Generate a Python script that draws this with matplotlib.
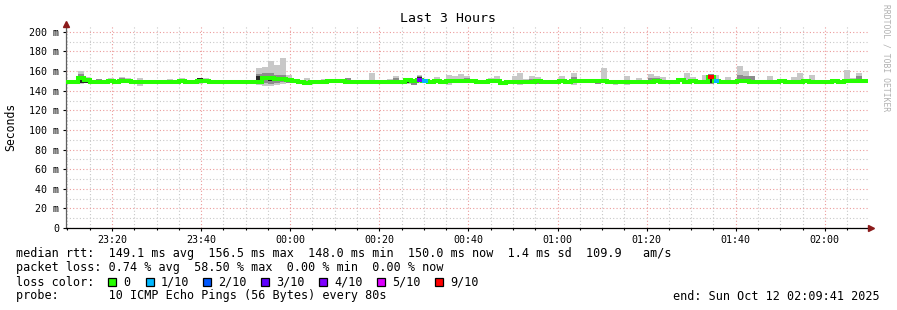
import numpy as np
import pandas as pd
import matplotlib
matplotlib.use("Agg")
import matplotlib.pyplot as plt
import matplotlib.dates as mdates
import matplotlib.ticker as mticker
from matplotlib.patches import Rectangle

plt.rcParams['font.family'] = 'DejaVu Sans Mono'

start = pd.Timestamp("2025-10-11 23:09:41")
step = "80s"

# median rtt per 80s step (ms)
median = [148.5, 148.5, 153.0, 150.5, 148.5, 149.0, 149.0, 149.5, 149.0, 149.5, 149.5, 149.0, 149.0, 149.0, 149.0,
          149.0, 148.5, 149.0, 149.0, 149.5, 149.0, 148.5, 150.0, 150.0, 149.0, 148.5, 148.5, 148.5, 149.0, 149.0,
          149.0, 149.0, 148.5, 152.5, 152.5, 152.0, 152.0, 150.5, 149.5, 149.0, 148.0, 149.0, 149.0, 149.0, 150.0,
          150.0, 150.0, 149.0, 148.5, 148.5, 148.5, 149.0, 149.0, 149.0, 149.0, 149.0, 148.5, 150.5, 150.0, 150.5,
          149.5, 148.5, 149.5, 148.5, 149.5, 149.5, 149.5, 149.5, 150.0, 148.5, 149.0, 149.5, 149.5, 148.0, 149.0,
          149.0, 149.0, 148.5, 149.0, 149.5, 149.0, 149.0, 149.0, 149.5, 148.5, 149.5, 149.5, 149.5, 149.5, 149.5,
          149.5, 149.0, 149.0, 148.5, 149.0, 149.0, 149.0, 148.5, 149.0, 149.5, 149.0, 148.5, 149.0, 151.0, 148.5,
          149.5, 148.5, 149.0, 154.5, 149.5, 149.0, 149.0, 149.0, 150.0, 149.5, 149.0, 149.0, 149.0, 149.0, 149.0,
          149.5, 149.0, 149.0, 149.0, 149.5, 149.0, 149.0, 148.5, 149.0, 149.5, 149.0, 149.5, 149.5, 150.0, 150.0]

ping_max = [150, 150, 160, 154, 150, 152, 150.5, 153, 150.5, 154, 153, 151, 153, 151, 150.5,
            150.5, 150, 152, 150.5, 153, 150.5, 150, 153, 153, 151, 150, 150, 150, 151, 150.5,
            150.5, 150.5, 163, 164.5, 170, 166, 173, 156, 151, 150.5, 153, 150.5, 150.5, 152, 151.5,
            152, 151.5, 153, 150, 150, 150, 158, 151, 150.5, 152, 155, 150, 152, 151.5, 156,
            151, 150, 154, 150, 156, 155, 157, 155, 151.5, 150, 151, 153, 155, 149.5, 150.5,
            155, 158, 152, 155, 154, 151, 151, 150.5, 155, 150, 158, 152, 152, 152, 151,
            163, 150.5, 151, 150, 155, 150.5, 153, 150, 157, 155, 154, 150, 150.5, 152.5, 158,
            154, 150, 156, 157, 156, 150.5, 154, 151, 165, 160, 155, 151, 150.5, 155, 150.5,
            151, 150.5, 154, 158, 151, 156, 150.5, 150, 150.5, 152, 150.5, 161, 153, 158, 152]

ping_min = [147.5, 147.5, 147, 147.5, 147.5, 147.5, 147.5, 148, 147.5, 148, 148, 147.5, 145, 147.5, 147.5,
            147.5, 147, 147.5, 147.5, 148, 147.5, 147, 146.5, 148, 147.5, 147, 147, 147, 147.5, 147.5,
            147.5, 147.5, 146, 145, 144.5, 146, 147, 148, 148, 147.5, 146, 147.5, 147.5, 147.5, 148.5,
            148.5, 148.5, 147.5, 147, 147, 147, 147.5, 147.5, 147.5, 147.5, 147.5, 147, 147, 146, 148,
            148, 147, 148, 147, 146, 148, 148, 148, 148.5, 147, 147.5, 148, 147.5, 146.5, 147.5,
            147, 146, 147, 147.5, 147, 147.5, 147.5, 147.5, 148, 147, 146, 148, 148, 148, 147,
            148, 147.5, 146, 147, 146, 147.5, 147.5, 147, 147.5, 148, 147.5, 147, 147.5, 149.5, 147,
            148, 147, 147.5, 147, 148, 147.5, 147.5, 147.5, 148.5, 148, 147.5, 147.5, 147.5, 147.5, 147.5,
            148, 147.5, 147.5, 147.5, 148, 147.5, 147.5, 147, 147.5, 148, 147.5, 148, 148, 148, 148]

# denser smoke: (step, low ms, high ms)
mid_bands = [(2, 149, 157), (3, 148, 152), (5, 149, 152), (9, 150, 153), (22, 149, 153), (30, 149, 150.5),
             (32, 147, 157), (33, 148, 158), (34, 147, 158), (35, 148, 156), (36, 149, 156), (37, 148, 152),
             (47, 149, 152.5), (55, 150, 153), (57, 147.5, 149), (58, 146, 148), (59, 149, 155),
             (65, 149, 151.5), (66, 149, 152), (67, 149, 153), (72, 148, 152), (75, 147, 149), (78, 149, 152),
             (79, 147, 148.5), (85, 150, 154), (89, 147, 148.5), (98, 149, 153), (99, 150, 153),
             (104, 147, 148.5), (108, 147, 157), (113, 150, 156), (114, 151, 155), (115, 150, 155),
             (116, 149, 150.5), (129, 149, 152), (132, 149, 151), (133, 148, 155)]
core_bands = [(2, 148, 155), (3, 147.5, 149), (22, 149, 152.5), (32, 147.5, 155), (34, 150, 153),
              (57, 147.5, 148.5), (59, 151, 154), (72, 147.5, 148.5), (108, 148, 156), (132, 149.5, 150.5)]

# packet loss (tenths) on steps with loss
loss_steps = [(59, 4), (60, 1), (108, 9), (109, 1)]

loss_labels = ["0", "1/10", "2/10", "3/10", "4/10", "5/10", "9/10"]
loss_colors = ["#26ff00", "#00b8ff", "#0059ff", "#5e00ff", "#7e00ff", "#dd00ff", "#ff0000"]
color_by_tenth = {0: 0, 1: 1, 2: 2, 3: 3, 4: 4, 5: 5, 9: 6}

stats_lines = [
    "median rtt:  149.1 ms avg  156.5 ms max  148.0 ms min  150.0 ms now  1.4 ms sd  109.9   am/s",
    "packet loss: 0.74 % avg  58.50 % max  0.00 % min  0.00 % now",
]
probe_line = "probe:       10 ICMP Echo Pings (56 Bytes) every 80s"
end_line = "end: Sun Oct 12 02:09:41 2025"

W, H = 897, 310
fig = plt.figure(figsize=(W / 100, H / 100), dpi=100)
fig.patch.set_facecolor("white")


def fx(x):
    return x / W


def fy(y):
    return 1 - y / H


ax = fig.add_axes([fx(66), fy(228), fx(868) - fx(66), fy(26) - fy(228)])

edges = mdates.date2num(pd.date_range(start, periods=len(median) + 1, freq=step).to_pydatetime())
widths = np.diff(edges)
lo = np.array(ping_min)
hi = np.array(ping_max)

ax.bar(edges[:-1], hi - lo, bottom=lo, width=widths, align="edge", color="#c8c8c8", linewidth=0, zorder=2)
idx, blo, bhi = map(np.array, zip(*mid_bands))
ax.bar(edges[idx], bhi - blo, bottom=blo, width=widths[idx], align="edge", color="#8c8c8c", linewidth=0, zorder=3)
idx, clo, chi = map(np.array, zip(*core_bands))
ax.bar(edges[idx], chi - clo, bottom=clo, width=widths[idx], align="edge", color="#262626", linewidth=0, zorder=4)

ax.plot(edges, median + [median[-1]], drawstyle="steps-post", color=loss_colors[0], lw=2.9,
        solid_joinstyle="miter", zorder=5)
for i, tenth in loss_steps:
    ax.hlines(median[i], edges[i], edges[i + 1], color=loss_colors[color_by_tenth[tenth]], lw=2.9, zorder=6)

ax.set_xlim(edges[0], edges[-1])
ax.set_ylim(0, 206)

ax.xaxis.set_major_locator(mdates.MinuteLocator(byminute=[0, 20, 40]))
ax.xaxis.set_minor_locator(mdates.MinuteLocator(byminute=range(0, 60, 5)))
ax.xaxis.set_major_formatter(mdates.DateFormatter("%H:%M"))
ax.yaxis.set_major_locator(mticker.MultipleLocator(20))
ax.yaxis.set_minor_locator(mticker.MultipleLocator(10))
ax.yaxis.set_major_formatter(mticker.FuncFormatter(lambda v, p: "0" if v == 0 else f"{int(v)} m"))

ax.grid(which="minor", color="#c8c8c8", linestyle=(0, (1, 2)), lw=0.8)
ax.grid(which="major", color="#eb9a9a", linestyle=(0, (1, 2)), lw=0.8)
ax.set_axisbelow(True)

ax.tick_params(axis="both", which="major", labelsize=7.2, length=2.5, width=0.8, pad=2.5, colors="#000000")
ax.tick_params(axis="x", which="minor", length=1.5, width=0.8)
ax.tick_params(axis="y", which="minor", length=0)
for s in ("top", "right"):
    ax.spines[s].set_visible(False)
ax.spines["left"].set_color("#606060")
ax.spines["left"].set_linewidth(0.9)
ax.spines["bottom"].set_color("#000000")
ax.spines["bottom"].set_linewidth(0.9)

ax.plot([0], [1.01], marker="^", ms=4.5, color="#8b1a1a", transform=ax.transAxes, clip_on=False, zorder=10)
ax.plot([1.004], [0], marker=">", ms=4.5, color="#8b1a1a", transform=ax.transAxes, clip_on=False, zorder=10)

fig.text(fx(448), fy(19), "Last 3 Hours", ha="center", va="center", fontsize=9.5)
fig.text(fx(11), fy(127), "Seconds", ha="center", va="center", rotation=90, fontsize=8.3)
fig.text(fx(886), fy(4), "RRDTOOL / TOBI OETIKER", ha="center", va="top", rotation=270,
         fontsize=5.8, color="#b0b0b0")

fig.text(fx(16), fy(254), stats_lines[0], ha="left", va="center", fontsize=8.5)
fig.text(fx(16), fy(268), stats_lines[1], ha="left", va="center", fontsize=8.5)
fig.text(fx(16), fy(282), "loss color:", ha="left", va="center", fontsize=8.5)
box_x = [108, 146, 203, 261, 319, 377, 435]
for bx, lab, col in zip(box_x, loss_labels, loss_colors):
    fig.patches.append(Rectangle((fx(bx), fy(286)), fx(8), 8 / H, transform=fig.transFigure,
                                 facecolor=col, edgecolor="#000000", lw=0.9))
    fig.text(fx(bx + 15), fy(282), lab, ha="left", va="center", fontsize=8.5)
fig.text(fx(16), fy(296), probe_line, ha="left", va="center", fontsize=8.5)
fig.text(fx(880), fy(296), end_line, ha="right", va="center", fontsize=8.5)

fig.savefig("out.png", dpi=100, facecolor="white")
